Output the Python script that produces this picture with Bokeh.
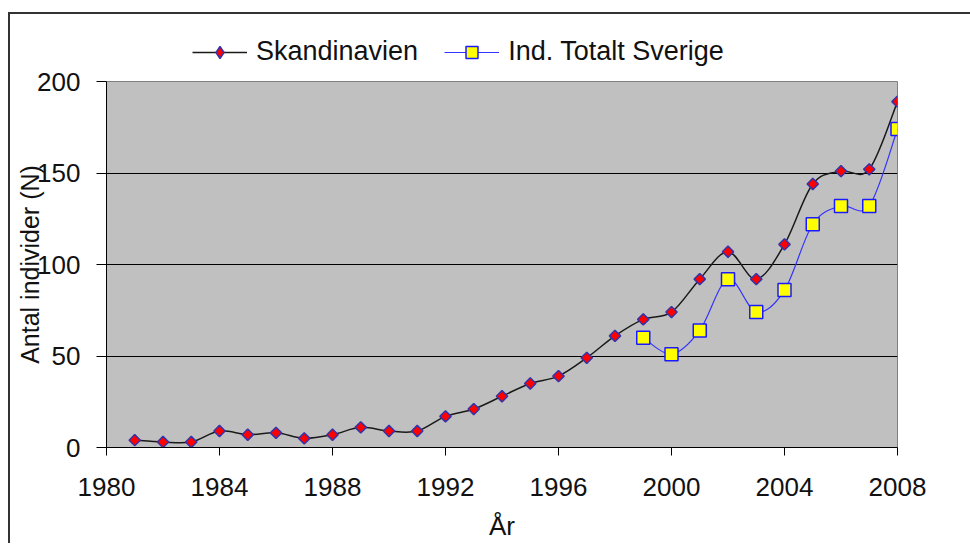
import math
from bokeh.plotting import figure
from bokeh.layouts import column
from bokeh.models import Range1d, FixedTicker, Legend, LegendItem, ColumnDataSource
from bokeh.embed import file_html
from bokeh.resources import INLINE

# ---- data ----
years_skand = list(range(1981, 2009))
skandinavien = [4, 3, 3, 9, 7, 8, 5, 7, 11, 9, 9, 17, 21, 28, 35, 39, 49, 61, 70, 74,
                92, 107, 92, 111, 144, 151, 152, 189]
years_sverige = list(range(1999, 2009))
sverige = [60, 51, 64, 92, 74, 86, 122, 132, 132, 174]
x_ticks = [1980, 1984, 1988, 1992, 1996, 2000, 2004, 2008]
y_ticks = [0, 50, 100, 150, 200]
grid_ticks = [50, 100, 150]

FONT = "Liberation Sans"

SK_LINE = dict(line_color="#1a1a1a", line_width=1.5)
SK_MARK = dict(marker="square", angle=math.pi / 4, size=8, fill_color="#FF0000",
               line_color="#3333AA", line_width=1.5)
SK_LEG_MARK = dict(marker="diamond", fill_color="#FF0000", line_color="#3333AA", line_width=1.5)
SV_LINE = dict(line_color="#3333FF", line_width=1.2)
SV_MARK = dict(marker="square", size=13, fill_color="#FFFF00", line_color="#1A1AFF",
               line_width=1.5)


def smooth_segments(xs, ys, t=1.0 / 6.0):
    """Bezier control points for a smoothed (Excel-like) line through the data."""
    n = len(xs)
    d = dict(x0=[], y0=[], x1=[], y1=[], cx0=[], cy0=[], cx1=[], cy1=[])
    for i in range(n - 1):
        xp, yp = (xs[i - 1], ys[i - 1]) if i > 0 else (xs[i], ys[i])
        xn, yn = (xs[i + 2], ys[i + 2]) if i + 2 < n else (xs[i + 1], ys[i + 1])
        d["x0"].append(xs[i]); d["y0"].append(ys[i])
        d["x1"].append(xs[i + 1]); d["y1"].append(ys[i + 1])
        d["cx0"].append(xs[i] + (xs[i + 1] - xp) * t)
        d["cy0"].append(ys[i] + (ys[i + 1] - yp) * t)
        d["cx1"].append(xs[i + 1] - (xn - xs[i]) * t)
        d["cy1"].append(ys[i + 1] - (yn - ys[i]) * t)
    return ColumnDataSource(d)


# ---------------- main chart ----------------
p = figure(width=960, height=475, output_backend="svg", toolbar_location=None,
           x_range=Range1d(1980, 2008), y_range=Range1d(0, 200),
           min_border_left=96, min_border_right=73, min_border_top=13, min_border_bottom=91)

p.background_fill_color = "#C0C0C0"
p.border_fill_color = "white"
p.outline_line_color = "#808080"
p.outline_line_width = 1

p.xgrid.visible = False
p.ygrid.ticker = FixedTicker(ticks=grid_ticks)
p.ygrid.grid_line_color = "black"
p.ygrid.grid_line_width = 1

for ax in (p.xaxis[0], p.yaxis[0]):
    ax.axis_line_color = "black"
    ax.axis_line_width = 1
    ax.major_tick_line_color = "black"
    ax.minor_tick_line_color = None
    ax.major_tick_in = 0
    ax.major_label_text_font = FONT
    ax.major_label_text_font_size = "26px"
    ax.major_label_text_color = "#111111"
    ax.axis_label_text_font = FONT
    ax.axis_label_text_font_style = "normal"
    ax.axis_label_text_color = "#111111"

p.xaxis.ticker = FixedTicker(ticks=x_ticks)
p.xaxis.major_tick_out = 8
p.xaxis.major_label_standoff = 22
p.xaxis.axis_label = "År"
p.xaxis.axis_label_text_font_size = "26px"
p.xaxis.axis_label_standoff = 12

p.yaxis.ticker = FixedTicker(ticks=y_ticks)
p.yaxis.major_tick_out = 10
p.yaxis.major_label_standoff = 16
p.yaxis.axis_label = "Antal individer (N)"
p.yaxis.axis_label_text_font_size = "25px"
p.yaxis.axis_label_standoff = -10

src_sk = smooth_segments(years_skand, skandinavien)
src_sv = smooth_segments(years_sverige, sverige)

p.bezier("x0", "y0", "x1", "y1", "cx0", "cy0", "cx1", "cy1", source=src_sk, **SK_LINE)
p.scatter(years_skand, skandinavien, **SK_MARK)
p.bezier("x0", "y0", "x1", "y1", "cx0", "cy0", "cx1", "cy1", source=src_sv, **SV_LINE)
p.scatter(years_sverige, sverige, **SV_MARK)

# ---------------- legend strip (same series, out of view) ----------------
lg = figure(width=960, height=54, output_backend="svg", toolbar_location=None,
            x_range=Range1d(0, 1), y_range=Range1d(0, 1),
            x_axis_type=None, y_axis_type=None, min_border=0)
lg.outline_line_color = None
lg.grid.visible = False
lg.background_fill_color = "white"
lg.border_fill_color = "white"

l_sk = lg.line(years_skand, skandinavien, **SK_LINE)
m_sk = lg.scatter(years_skand, skandinavien, **SK_LEG_MARK)
l_sv = lg.line(years_sverige, sverige, **SV_LINE)
m_sv = lg.scatter(years_sverige, sverige, **SV_MARK)

legend = Legend(items=[LegendItem(label="Skandinavien", renderers=[l_sk, m_sk]),
                       LegendItem(label="Ind. Totalt Sverige", renderers=[l_sv, m_sv])],
                orientation="horizontal", location=(86, 1),
                border_line_color=None, background_fill_alpha=0,
                label_text_font=FONT, label_text_font_size="27px", label_text_color="#111111",
                glyph_width=55, glyph_height=30, label_standoff=9, spacing=26,
                padding=0, margin=0)
lg.add_layout(legend, "center")

layout = column(lg, p, spacing=0,
                styles={"border-left": "2px solid #333333", "border-top": "2px solid #333333",
                        "margin-left": "8px", "margin-top": "12px"})

open("out.html", "w").write(file_html(layout, INLINE))
